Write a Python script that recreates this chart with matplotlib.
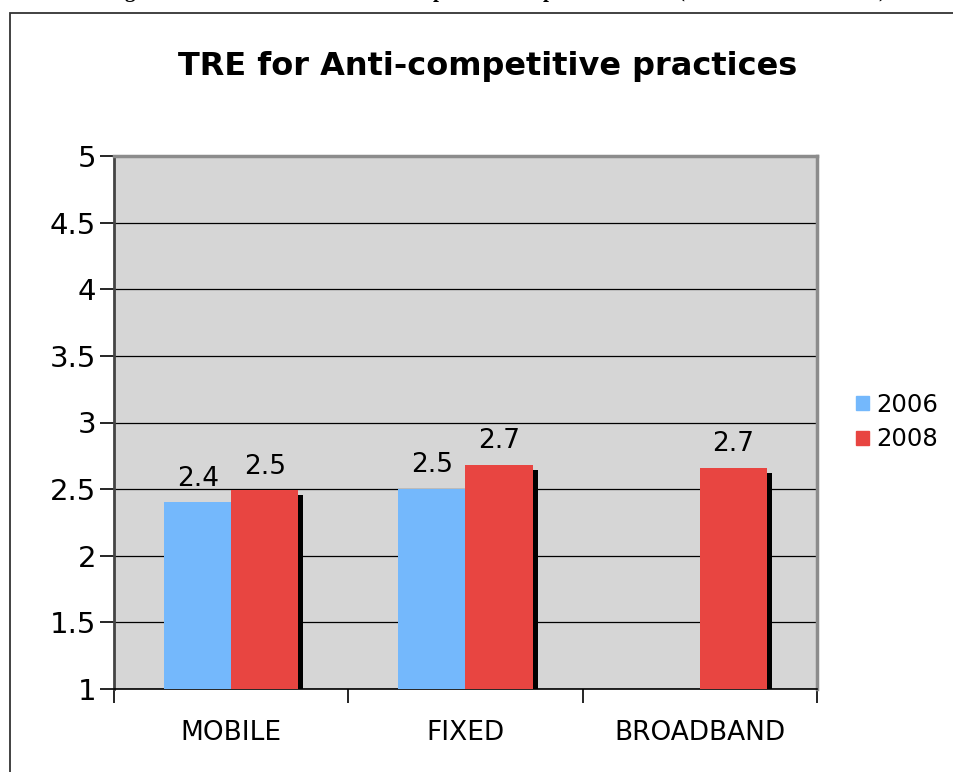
import matplotlib
matplotlib.use("Agg")
import matplotlib.pyplot as plt
from matplotlib.patches import Rectangle
import matplotlib.patheffects as pe
import numpy as np

categories = ["MOBILE", "FIXED", "BROADBAND"]
years = ["2006", "2008"]
values_2006 = [2.4, 2.5, None]
values_2008 = [2.49, 2.68, 2.66]
colors = {"2006": "#74b8fc", "2008": "#e84541"}
y_ticks = [1, 1.5, 2, 2.5, 3, 3.5, 4, 4.5, 5]

W, H = 954, 772
fig = plt.figure(figsize=(W / 100, H / 100), dpi=100)
fig.patch.set_facecolor("white")

def px(x0, y0, x1, y1):
    return [x0 / W, 1 - y1 / H, (x1 - x0) / W, (y1 - y0) / H]

# outer chart frame (extends past the right and bottom edges)
frame = Rectangle((10 / W, -0.1), 1.2, 1 - 13 / H + 0.1, transform=fig.transFigure,
                  fill=False, edgecolor="#333333", linewidth=1.3, clip_on=False)
fig.add_artist(frame)

# caption line of the page above the chart, cut off at the top edge
for ch, x in [("g", 125), ("p", 433), ("p", 543), ("(", 677), (")", 878)]:
    fig.text(x / W, 1 + 2.5 / H, ch, fontsize=15, fontweight="bold",
             family="Liberation Serif", va="baseline", ha="left")

ax = fig.add_axes(px(114, 156, 817, 689))
ax.set_facecolor("#d6d6d6")

x = np.arange(len(categories))
bw = 0.286
shadow = [pe.SimplePatchShadow(offset=(3.6, -3.6), shadow_rgbFace="black", alpha=1.0),
          pe.Normal()]

for i, v in enumerate(values_2006):
    if v is None:
        continue
    b = ax.bar(x[i] - bw / 2, v - 1, bottom=1, width=bw, color=colors["2006"],
               zorder=3)
    b[0].set_path_effects(shadow)
    ax.text(x[i] - bw / 2, v + 0.08, f"{v:.1f}", ha="center", va="bottom",
            fontsize=19, zorder=5)

for i, v in enumerate(values_2008):
    b = ax.bar(x[i] + bw / 2, v - 1, bottom=1, width=bw, color=colors["2008"],
               zorder=4)
    b[0].set_path_effects(shadow)
    ax.text(x[i] + bw / 2, v + 0.08, f"{v:.1f}", ha="center", va="bottom",
            fontsize=19, zorder=5)

ax.set_xlim(-0.5, len(categories) - 0.5)
ax.set_ylim(1, 5)
ax.set_yticks(y_ticks)
ax.set_yticklabels([f"{t:g}" for t in y_ticks], fontsize=21)
ax.yaxis.grid(True, color="black", linewidth=0.9, zorder=1)
ax.set_axisbelow(True)

ax.set_xticks(x)
ax.set_xticklabels(categories, fontsize=19)
ax.tick_params(axis="x", which="major", length=0, pad=22)
ax.set_xticks(np.arange(len(categories) + 1) - 0.5, minor=True)
ax.tick_params(axis="x", which="minor", length=10, width=1.2, color="black", direction="out")
ax.tick_params(axis="y", length=10, width=1.2, color="black", direction="out", pad=3)

for side in ["top", "right"]:
    ax.spines[side].set_color("#8c8c8c")
    ax.spines[side].set_linewidth(2.5)
ax.spines["left"].set_color("#444444")
ax.spines["left"].set_linewidth(2)
ax.spines["bottom"].set_color("black")
ax.spines["bottom"].set_linewidth(1.2)

fig.text(488 / W, 1 - 66 / H, "TRE for Anti-competitive practices", ha="center",
         va="center", fontsize=23, fontweight="bold")

handles = [Rectangle((0, 0), 1, 1, color=colors[y]) for y in years]
fig.legend(handles, years, loc="center left", bbox_to_anchor=(856 / W, 1 - 422 / H),
           frameon=False, fontsize=17.5, handlelength=0.55, handleheight=0.55,
           handletextpad=0.3, labelspacing=0.45, borderaxespad=0, borderpad=0)

fig.savefig("out.png", dpi=100)
